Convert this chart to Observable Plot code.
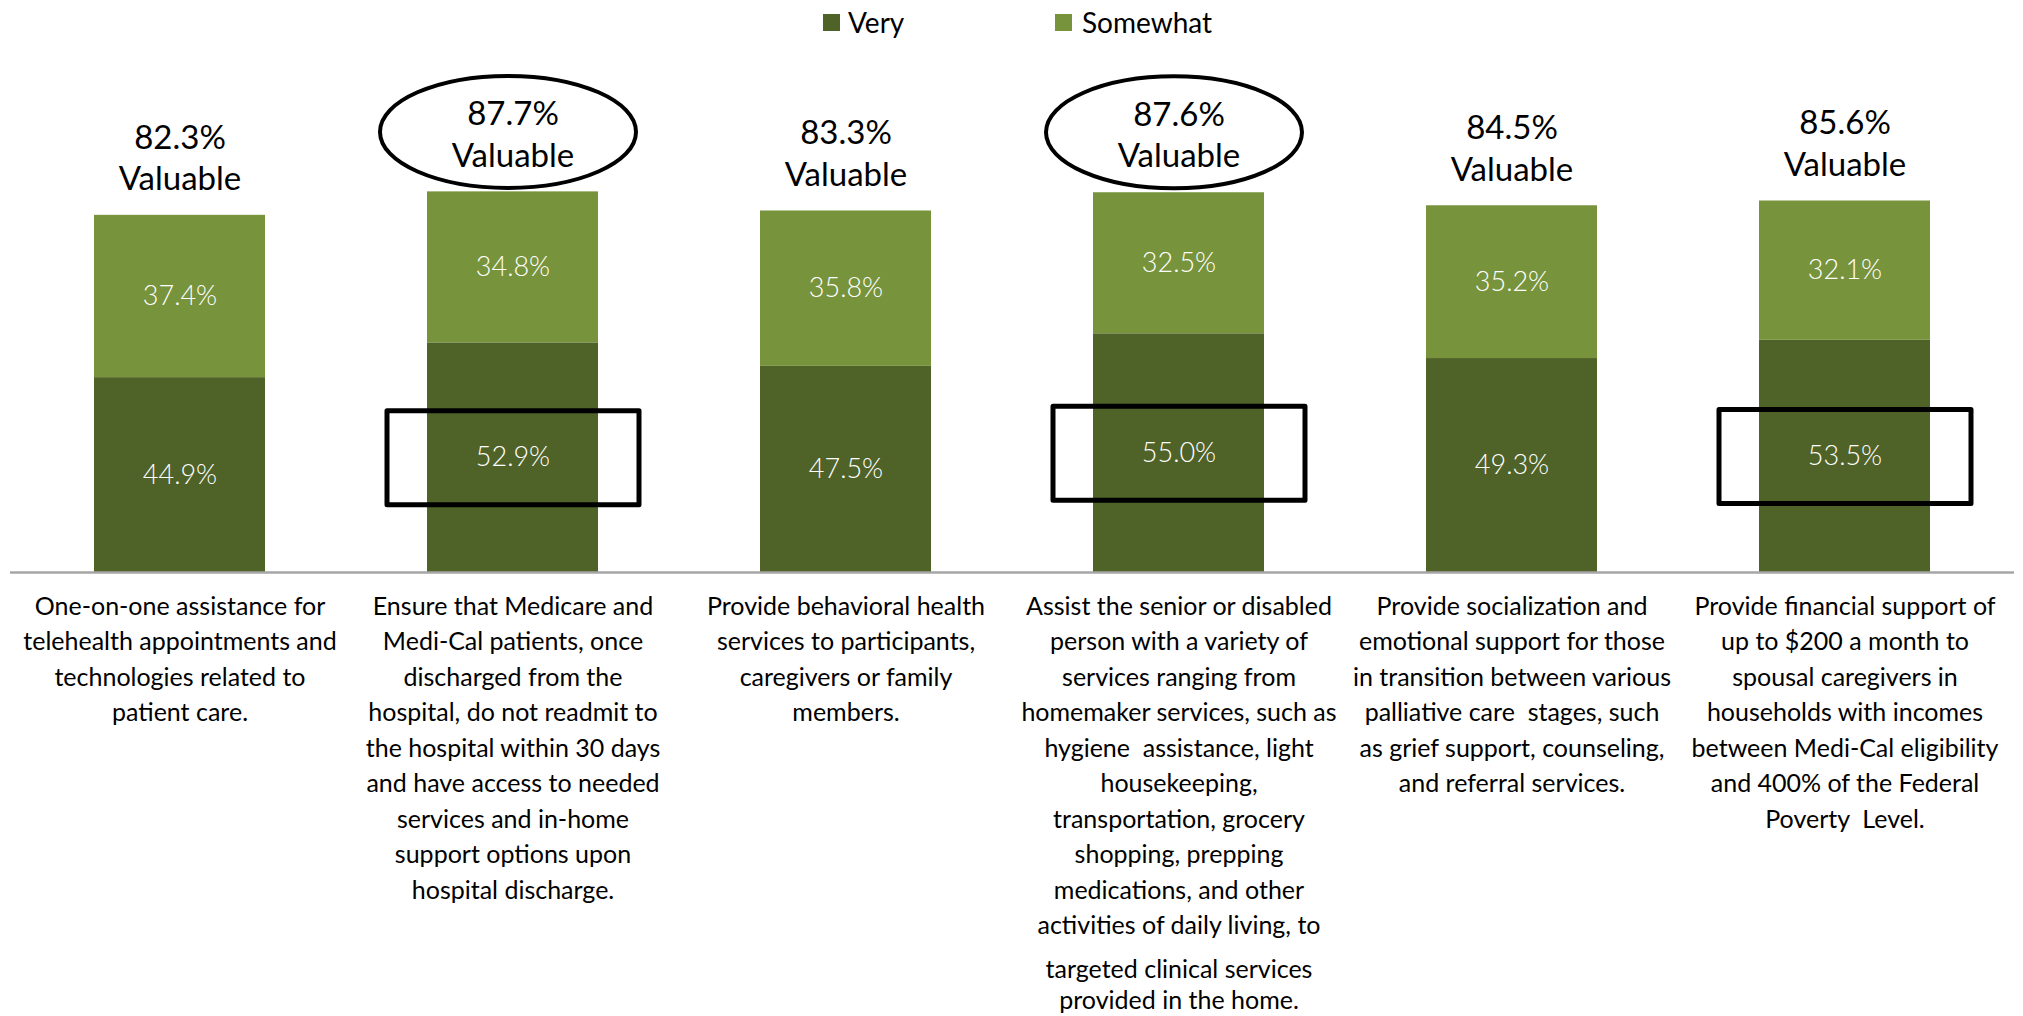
<!DOCTYPE html>
<html>
<head>
<meta charset="utf-8">
<script src="https://cdn.jsdelivr.net/npm/d3@7"></script>
<script src="https://cdn.jsdelivr.net/npm/@observablehq/plot@0.6"></script>
<style>
  body { margin: 0; background: #ffffff; font-family: Lato, "Noto Sans", sans-serif; }
  #legend { position: relative; width: 2023px; height: 44px; font-size: 28px; color: #000; }
  #legend .sw { position: absolute; top: 14px; width: 17px; height: 17px; }
  #legend .lb { position: absolute; top: 0; line-height: 44px; }
  #chart svg { display: block; }
</style>
</head>
<body>
<div id="legend"></div>
<div id="chart"></div>
<script>
// ---------- data ----------
const categoryLabels = [
  "One-on-one assistance for\ntelehealth appointments and\ntechnologies related to\npatient care.",
  "Ensure that Medicare and\nMedi-Cal patients, once\ndischarged from the\nhospital, do not readmit to\nthe hospital within 30 days\nand have access to needed\nservices and in-home\nsupport options upon\nhospital discharge.",
  "Provide behavioral health\nservices to participants,\ncaregivers or family\nmembers.",
  "Assist the senior or disabled\nperson with a variety of\nservices ranging from\nhomemaker services, such as\nhygiene  assistance, light\nhousekeeping,\ntransportation, grocery\nshopping, prepping\nmedications, and other\nactivities of daily living, to",
  "Provide socialization and\nemotional support for those\nin transition between various\npalliative care  stages, such\nas grief support, counseling,\nand referral services.",
  "Provide financial support of\nup to $200 a month to\nspousal caregivers in\nhouseholds with incomes\nbetween Medi-Cal eligibility\nand 400% of the Federal\nPoverty  Level."
];
const categoryLabelTails = ["", "", "", "targeted clinical services\nprovided in the home.", "", ""];
const seriesNames = ["Very", "Somewhat"];
const seriesColors = ["#4F6228", "#77933C"];
const very     = [44.9, 52.9, 47.5, 55.0, 49.3, 53.5];
const somewhat = [37.4, 34.8, 35.8, 32.5, 35.2, 32.1];
const valuable = [82.3, 87.7, 83.3, 87.6, 84.5, 85.6];
const circled  = [false, true, false, true, false, false];
const boxed    = [false, true, false, true, false, true];

// ---------- tables ----------
const rows = seriesNames.flatMap((s, si) =>
  categoryLabels.map((c, i) => ({cat: c, series: s, value: si === 0 ? very[i] : somewhat[i]})));
const cats = categoryLabels.map((c, i) => ({
  cat: c, very: very[i], somewhat: somewhat[i], valuable: valuable[i],
  circled: circled[i], boxed: boxed[i], tail: categoryLabelTails[i]
}));

// ---------- annotation shapes ----------
const ellipseSymbol = {
  draw(ctx) {
    const rx = 128, ry = 56, k = 0.5523;
    ctx.moveTo(rx, 0);
    ctx.bezierCurveTo(rx, ry * k, rx * k, ry, 0, ry);
    ctx.bezierCurveTo(-rx * k, ry, -rx, ry * k, -rx, 0);
    ctx.bezierCurveTo(-rx, -ry * k, -rx * k, -ry, 0, -ry);
    ctx.bezierCurveTo(rx * k, -ry, rx, -ry * k, rx, 0);
    ctx.closePath();
  }
};
const rectSymbol = {
  draw(ctx) {
    const w = 126, h = 47;
    ctx.moveTo(-w, -h);
    ctx.lineTo(w, -h);
    ctx.lineTo(w, h);
    ctx.lineTo(-w, h);
    ctx.closePath();
  }
};

// ---------- legend ----------
const legend = document.getElementById("legend");
const legendPos = [[823, 848], [1055, 1082]];
seriesNames.forEach((s, i) => {
  const sw = document.createElement("div");
  sw.className = "sw";
  sw.style.left = legendPos[i][0] + "px";
  sw.style.background = seriesColors[i];
  const lb = document.createElement("div");
  lb.className = "lb";
  lb.style.left = legendPos[i][1] + "px";
  lb.textContent = s;
  legend.append(sw, lb);
});

// ---------- chart ----------
const chart = Plot.plot({
  width: 2023,
  height: 972,
  marginTop: 94,
  marginBottom: 444,
  marginLeft: 10,
  marginRight: 9,
  x: {domain: categoryLabels, paddingInner: 0.4865, paddingOuter: 0.252, axis: null},
  y: {domain: [0, 100], axis: null},
  color: {domain: seriesNames, range: seriesColors},
  style: {fontFamily: "Lato, 'Noto Sans', sans-serif", background: "#ffffff", color: "#000"},
  marks: [
    Plot.barY(rows, {x: "cat", y: "value", fill: "series"}),
    Plot.ruleY([0], {stroke: "#a6a6a6", strokeWidth: 2.5}),
    Plot.text(rows, Plot.stackY({
      x: "cat", y: "value", z: "series",
      text: d => d.value.toFixed(1) + "%",
      fill: "#ffffff", fontSize: 27, fontWeight: 300
    })),
    Plot.text(cats, {
      x: "cat", y: "valuable",
      text: d => `${d.valuable.toFixed(1)}%\nValuable`,
      lineAnchor: "bottom", dy: -25, fontSize: 33, lineHeight: 1.26, fill: "#000"
    }),
    Plot.dot(cats.filter(d => d.circled), {
      x: "cat", y: "valuable", symbol: ellipseSymbol, dx: -5, dy: -60,
      fill: "none", stroke: "#000", strokeWidth: 4
    }),
    Plot.dot(cats.filter(d => d.boxed), {
      x: "cat", y: d => d.very / 2, symbol: rectSymbol,
      fill: "none", stroke: "#000", strokeWidth: 5, strokeLinejoin: "round"
    }),
    Plot.text(cats, {
      x: "cat", y: d => 0, text: "cat",
      lineAnchor: "top", dy: 17, fontSize: 25, lineHeight: 1.42, fill: "#000"
    }),
    Plot.text(cats.filter(d => d.tail), {
      x: "cat", y: d => 0, text: "tail",
      lineAnchor: "top", dy: 383, fontSize: 25, lineHeight: 1.24, fill: "#000"
    })
  ]
});
document.getElementById("chart").append(chart);
</script>
</body>
</html>
